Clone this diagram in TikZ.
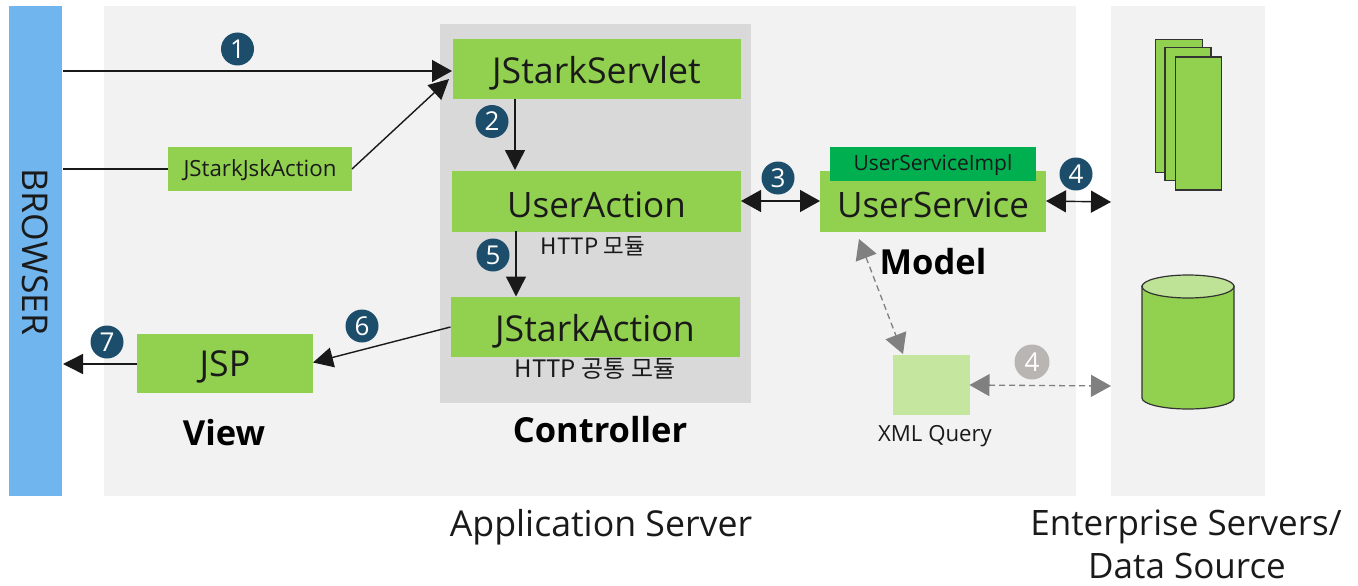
\documentclass[tikz,border=0pt]{standalone}
\usepackage{fontspec}
\setmainfont{Open Sans}
\newfontfamily\krfont{Noto Sans CJK KR}
\usetikzlibrary{arrows.meta}
\definecolor{lgreen}{HTML}{92D050}
\definecolor{pgreen}{HTML}{C5E69F}
\definecolor{dgreen}{HTML}{00B050}
\definecolor{bluebar}{HTML}{70B5EE}
\definecolor{panel}{HTML}{F2F2F2}
\definecolor{ctrl}{HTML}{D9D9D9}
\definecolor{badge}{HTML}{1C4E6B}
\definecolor{gbadge}{HTML}{B8B5B2}
\definecolor{garrow}{HTML}{808080}
\definecolor{txt}{HTML}{1A1A1A}
\newcommand{\dn}[2]{\raisebox{0pt}[\dimexpr\height+2\dimexpr#1\relax\relax]{#2}}
\tikzset{
 x=1pt,y=-1pt,
 area/.style={inner sep=0pt,outer sep=0pt,anchor=north west},
 box/.style={fill=lgreen,inner sep=0pt,outer sep=0pt,text=txt,font=\fontsize{35.7}{35.7}\selectfont},
 num/.style={circle,fill=badge,text=white,inner sep=0pt,minimum size=33pt,font=\fontsize{26}{26}\selectfont},
 numg/.style={num,fill=gbadge},
 conn/.style={draw=black!90,line width=1.4pt},
 arr/.style={conn,-{Triangle[length=20pt,width=20pt]}},
 darr/.style={conn,{Triangle[length=20pt,width=22pt]}-{Triangle[length=20pt,width=22pt]}},
 garr/.style={draw=garrow,line width=1.3pt,dash pattern=on 6pt off 4pt,{Triangle[length=20pt,width=22pt]}-{Triangle[length=20pt,width=22pt]}},
 lab/.style={text=txt,inner sep=0pt},
 title/.style={text=black,inner sep=0pt,font=\fontsize{34.5}{34.5}\selectfont\bfseries},
 stack/.style={draw=black!80,line width=1.2pt,fill=lgreen},
}
\begin{document}
\begin{tikzpicture}
\useasboundingbox (0,0) rectangle (1358,586);
% areas
\node[area,fill=panel,minimum width=972pt,minimum height=490pt] (app) at (104,6) {};
\node[area,fill=panel,minimum width=154pt,minimum height=490pt] (ent) at (1111,6) {};
\node[area,fill=bluebar,minimum width=53pt,minimum height=490pt] (browser) at (9,6) {};
\node[area,fill=ctrl,minimum width=311pt,minimum height=379pt] (ctl) at (440,24) {};
\node[rotate=-90,lab,font=\fontsize{35.5}{35.5}\selectfont] (browsertext) at (35,252) {BROWSER};
% boxes
\node[box,minimum width=288pt,minimum height=59pt] (servlet) at (596.5,69) {\dn{4.5pt}{JStarkServlet}};
\node[box,minimum width=289pt,minimum height=61pt,font=\fontsize{35}{35}\selectfont] (uaction) at (596.5,201) {\dn{3.5pt}{UserAction}};
\node[box,minimum width=289pt,minimum height=60pt] (jaction) at (595,327) {\dn{4.5pt}{JStarkAction}};
\node[box,minimum width=176pt,minimum height=59pt] (jsp) at (225,363.5) {\dn{3.5pt}{JSP}};
\node[box,minimum width=184pt,minimum height=44pt,font=\fontsize{22.3}{22.3}\selectfont] (jsk) at (260,169) {\dn{1.5pt}{JStarkJskAction}};
\node[box,minimum width=226pt,minimum height=61pt,font=\fontsize{35}{35}\selectfont] (uservice) at (933,201) {\dn{3.5pt}{UserService}};
\node[box,fill=dgreen,minimum width=206pt,minimum height=34pt,font=\fontsize{21}{21}\selectfont] (impl) at (933,164) {\dn{1.5pt}{UserServiceImpl}};
\node[box,fill=pgreen,minimum width=77pt,minimum height=60pt] (xml) at (931,385) {};
% labels
\node[lab,font=\fontsize{22.5}{22.5}\krfont] (t1) at (593,246) {HTTP 모듈};
\node[lab,font=\fontsize{24}{24}\krfont] (t2) at (595,369) {HTTP 공통 모듈};
\node[lab,font=\fontsize{22.2}{22.2}\selectfont] (t3) at (935,433.5) {\dn{3pt}{XML Query}};
\node[title] (view) at (224,433) {View};
\node[title] (controller) at (600,430) {Controller};
\node[title] (model) at (933,262) {Model};
\node[lab,font=\fontsize{35.7}{35.7}\selectfont] (as) at (601,527) {Application Server};
\node[lab,font=\fontsize{35}{35}\selectfont] (es1) at (1186,527) {Enterprise Servers/};
\node[lab,font=\fontsize{35}{35}\selectfont] (es2) at (1187,566) {Data Source};
% data stores
\node[stack,minimum width=47pt,minimum height=133pt,inner sep=0pt] (s1) at (1179,106) {};
\node[stack,minimum width=46pt,minimum height=133pt,inner sep=0pt] (s2) at (1188,114) {};
\node[stack,minimum width=46pt,minimum height=133pt,inner sep=0pt] (s3) at (1198.5,123.5) {};
\draw[stack] (1142,286) -- (1142,398) arc[start angle=180,end angle=360,x radius=46pt,y radius=11pt] -- (1234,286) -- cycle;
\draw[stack,fill=lgreen!60!white] (1188,286.5) ellipse[x radius=46pt,y radius=11.5pt];
% free ends
\coordinate (b1) at (63,71);
\coordinate (b2) at (63,169);
\coordinate (b7) at (63,364);
\coordinate (srvin) at (452,71);
\coordinate (srvin2) at (449,79);
\coordinate (e4) at (1111,202);
\coordinate (e5) at (1111,386);
\coordinate (usb) at (859,239);
\coordinate (xmlt) at (903,354);
% connectors
\draw[arr,-{Triangle[length=20pt,width=22pt]}] (b1) -- (srvin);
\draw[conn] (b2) -- (jsk.west);
\draw[arr] (jsk.east) -- (srvin2);
\draw[arr] (servlet.south -| 515,99) -- (515,170);
\draw[arr] (516,231) -- (516,296.5);
\draw[arr] (jaction.west) -- (jsp.east |- 0,362.5);
\draw[arr] (jsp.west |- b7) -- (b7);
\draw[darr] (uaction.east) -- (uservice.west);
\draw[darr] (uservice.east) -- (e4);
\draw[garr] (usb) -- (xmlt);
\draw[garr] (xml.east) -- (e5);
% badges
\node[num] (n1) at (237.5,49) {1};
\node[num] (n2) at (492,121.5) {2};
\node[num] (n3) at (778,178) {3};
\node[num] (n4) at (1076,174) {4};
\node[num] (n5) at (493,255) {5};
\node[num] (n6) at (362,326) {6};
\node[num] (n7) at (107,342) {7};
\node[numg,minimum size=35pt] (n8) at (1032,362) {4};
\end{tikzpicture}
\end{document}
